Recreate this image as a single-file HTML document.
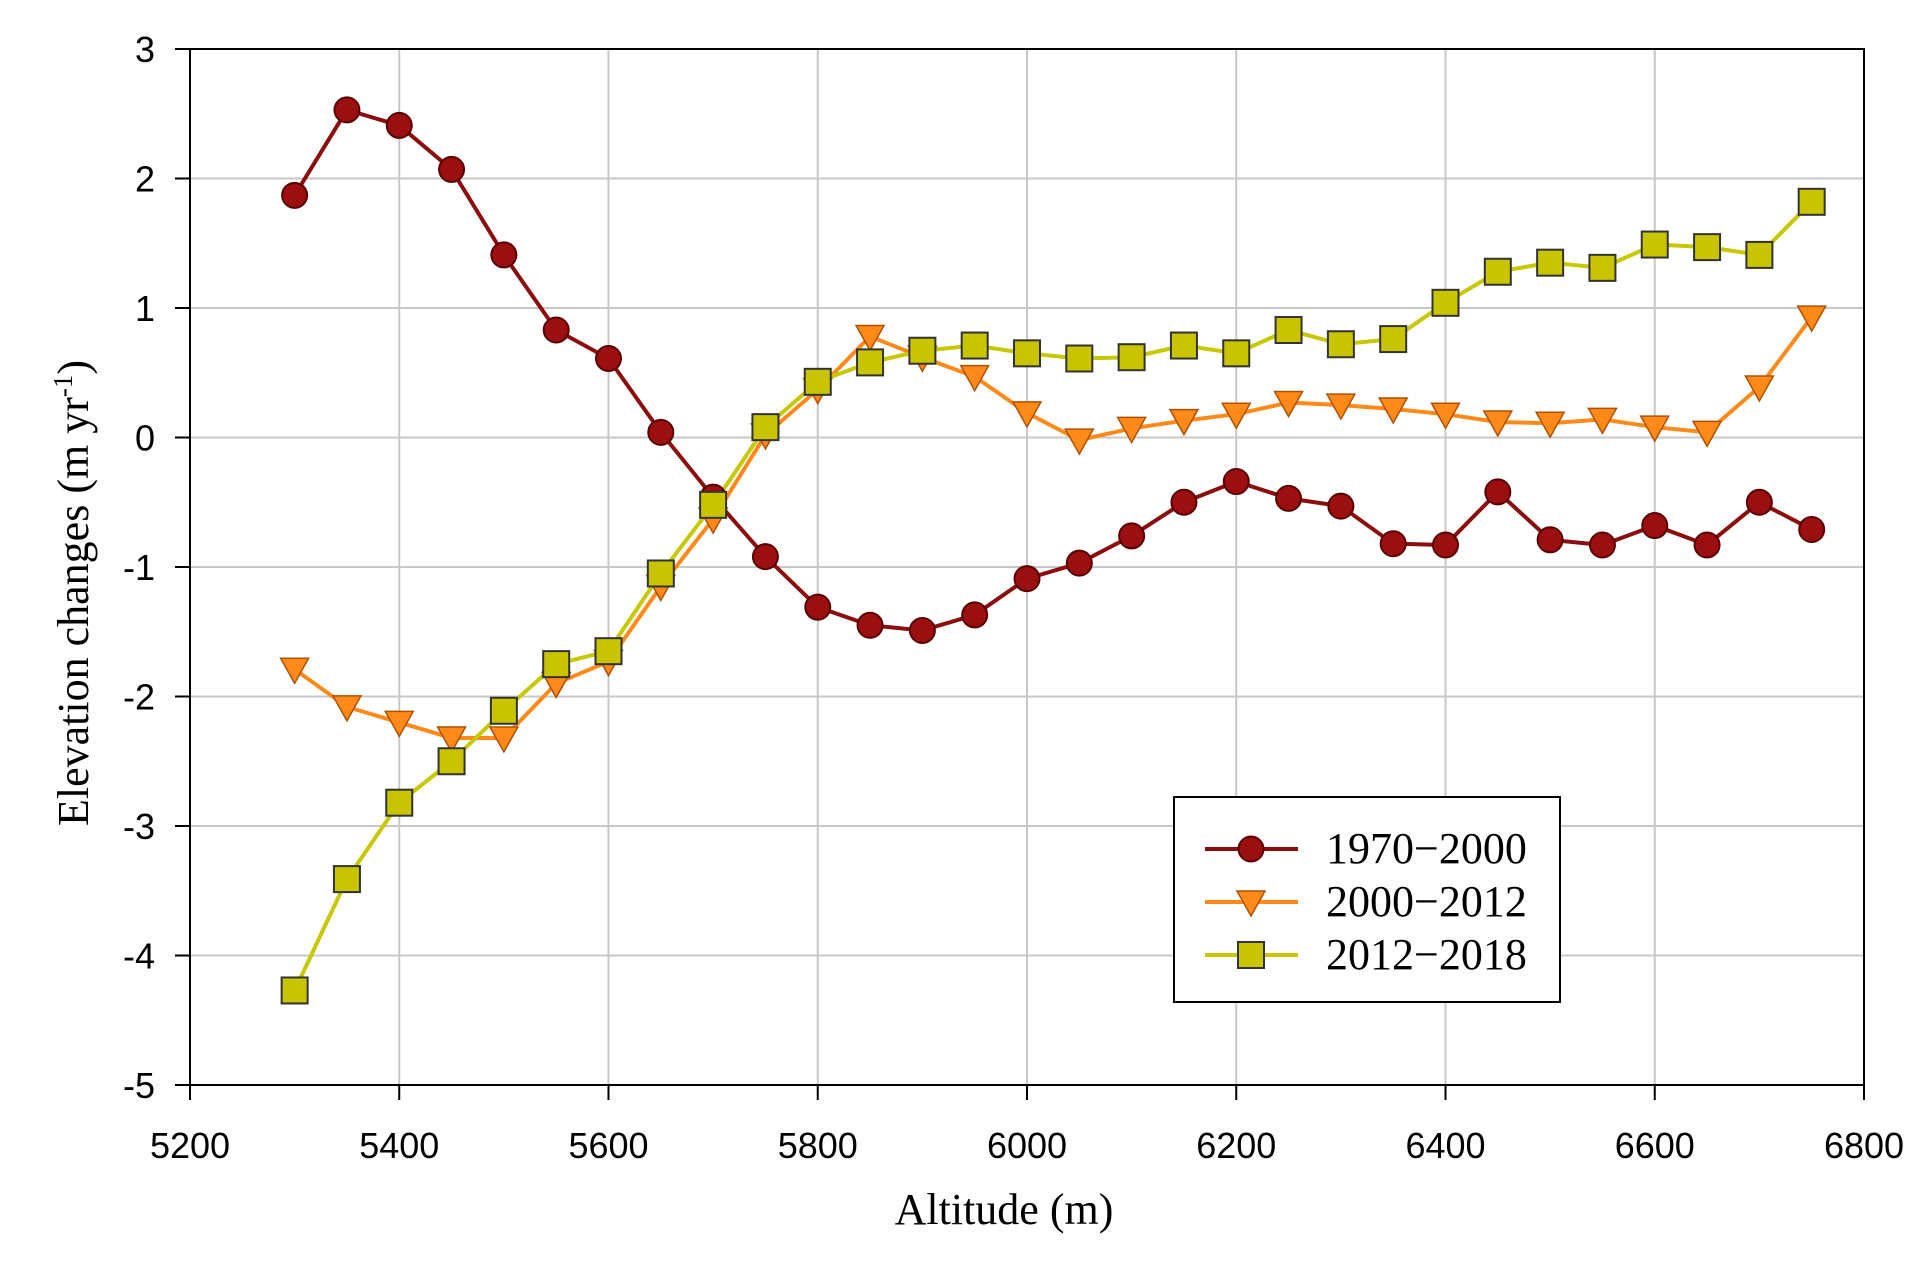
<!DOCTYPE html>
<html><head><meta charset="utf-8"><style>
html,body{margin:0;padding:0;background:#fff;}
svg{display:block;}
</style></head><body>
<svg id="s" width="1928" height="1266" viewBox="0 0 1928 1266" xmlns="http://www.w3.org/2000/svg">
<rect width="1928" height="1266" fill="#fff"/>
<g id="grid"></g>
<rect x="190" y="49" width="1674" height="1036" fill="none" stroke="#000" stroke-width="2"/>
<g id="ticks" font-family="Liberation Sans, sans-serif" font-size="36" fill="#000"></g>
<g id="series"></g>
<text x="1004" y="1224" text-anchor="middle" font-family="Liberation Serif, serif" font-size="44">Altitude (m)</text>
<text transform="translate(88,593) rotate(-90)" text-anchor="middle" font-family="Liberation Serif, serif" font-size="44">Elevation changes (m yr<tspan dy="-16" font-size="27">-1</tspan><tspan dy="16">)</tspan></text>
<rect x="1174" y="797" width="386" height="205" fill="#fff" stroke="#000" stroke-width="2"/>
<g font-family="Liberation Serif, serif" font-size="44">
<line x1="1205" y1="849" x2="1298" y2="849" stroke="#8b0d0d" stroke-width="4"/>
<circle cx="1251" cy="849" r="12.5" fill="#9b0f10" stroke="#5a0000" stroke-width="2"/>
<text x="1326" y="863">1970−2000</text>
<line x1="1205" y1="902" x2="1298" y2="902" stroke="#ff8a1a" stroke-width="4"/>
<polygon points="1237,891 1265,891 1251,916" fill="#ff8a1a" stroke="#b05000" stroke-width="1.5"/>
<text x="1326" y="916">2000−2012</text>
<line x1="1205" y1="955" x2="1298" y2="955" stroke="#c8c800" stroke-width="4"/>
<rect x="1238" y="942" width="26" height="26" fill="#c8c400" stroke="#333" stroke-width="2"/>
<text x="1326" y="969">2012−2018</text>
</g>
</svg>
<script>
const X=a=>190+(a-5200)/200*209.25, Y=v=>49+(3-v)*129.5;
const ns="http://www.w3.org/2000/svg";
function el(p,t,at,txt){const e=document.createElementNS(ns,t);for(const k in at)e.setAttribute(k,at[k]);if(txt!=null)e.textContent=txt;document.getElementById(p).appendChild(e);return e;}
for(let a=5400;a<6800;a+=200)el("grid","line",{x1:X(a),x2:X(a),y1:49,y2:1085,stroke:"#c8c8c8","stroke-width":2});
for(let v=-4;v<3;v++)el("grid","line",{x1:190,x2:1864,y1:Y(v),y2:Y(v),stroke:"#c8c8c8","stroke-width":2});
for(let a=5200;a<=6800;a+=200){el("ticks","line",{x1:X(a),x2:X(a),y1:1085,y2:1100,stroke:"#000","stroke-width":2});el("ticks","text",{x:X(a),y:1158,"text-anchor":"middle"},a);}
for(let v=-5;v<=3;v++){el("ticks","line",{x1:175,x2:190,y1:Y(v),y2:Y(v),stroke:"#000","stroke-width":2});el("ticks","text",{x:155,y:Y(v)+13,"text-anchor":"end"},v);}
const alt=[];for(let a=5300;a<=6750;a+=50)alt.push(a);
const d1=[1.87,2.53,2.41,2.07,1.41,0.83,0.61,0.04,-0.46,-0.92,-1.31,-1.45,-1.49,-1.37,-1.09,-0.97,-0.76,-0.50,-0.34,-0.47,-0.53,-0.82,-0.83,-0.42,-0.79,-0.83,-0.68,-0.83,-0.50,-0.71];
const d2=[-1.79,-2.08,-2.20,-2.32,-2.32,-1.90,-1.73,-1.15,-0.63,0.02,0.37,0.78,0.62,0.47,0.19,-0.02,0.07,0.13,0.18,0.27,0.25,0.22,0.18,0.12,0.11,0.14,0.08,0.04,0.39,0.93];
const d3=[-4.27,-3.41,-2.82,-2.50,-2.11,-1.75,-1.65,-1.05,-0.52,0.08,0.43,0.58,0.67,0.71,0.65,0.61,0.62,0.71,0.65,0.83,0.72,0.76,1.04,1.28,1.35,1.31,1.49,1.47,1.41,1.82];
function line(d,c){el("series","polyline",{points:d.map((v,i)=>X(alt[i])+","+Y(v)).join(" "),fill:"none",stroke:c,"stroke-width":4});}
line(d1,"#8b0d0d");line(d2,"#ff8a1a");line(d3,"#c8c800");
d1.forEach((v,i)=>el("series","circle",{cx:X(alt[i]),cy:Y(v),r:12.5,fill:"#9b0f10",stroke:"#5a0000","stroke-width":2}));
d2.forEach((v,i)=>{const x=X(alt[i]),y=Y(v);el("series","polygon",{points:`${x-14},${y-11} ${x+14},${y-11} ${x},${y+14}`,fill:"#ff8a1a",stroke:"#b05000","stroke-width":1.5});});
d3.forEach((v,i)=>el("series","rect",{x:X(alt[i])-13,y:Y(v)-13,width:26,height:26,fill:"#c8c400",stroke:"#333","stroke-width":2}));
</script>
</body></html>
